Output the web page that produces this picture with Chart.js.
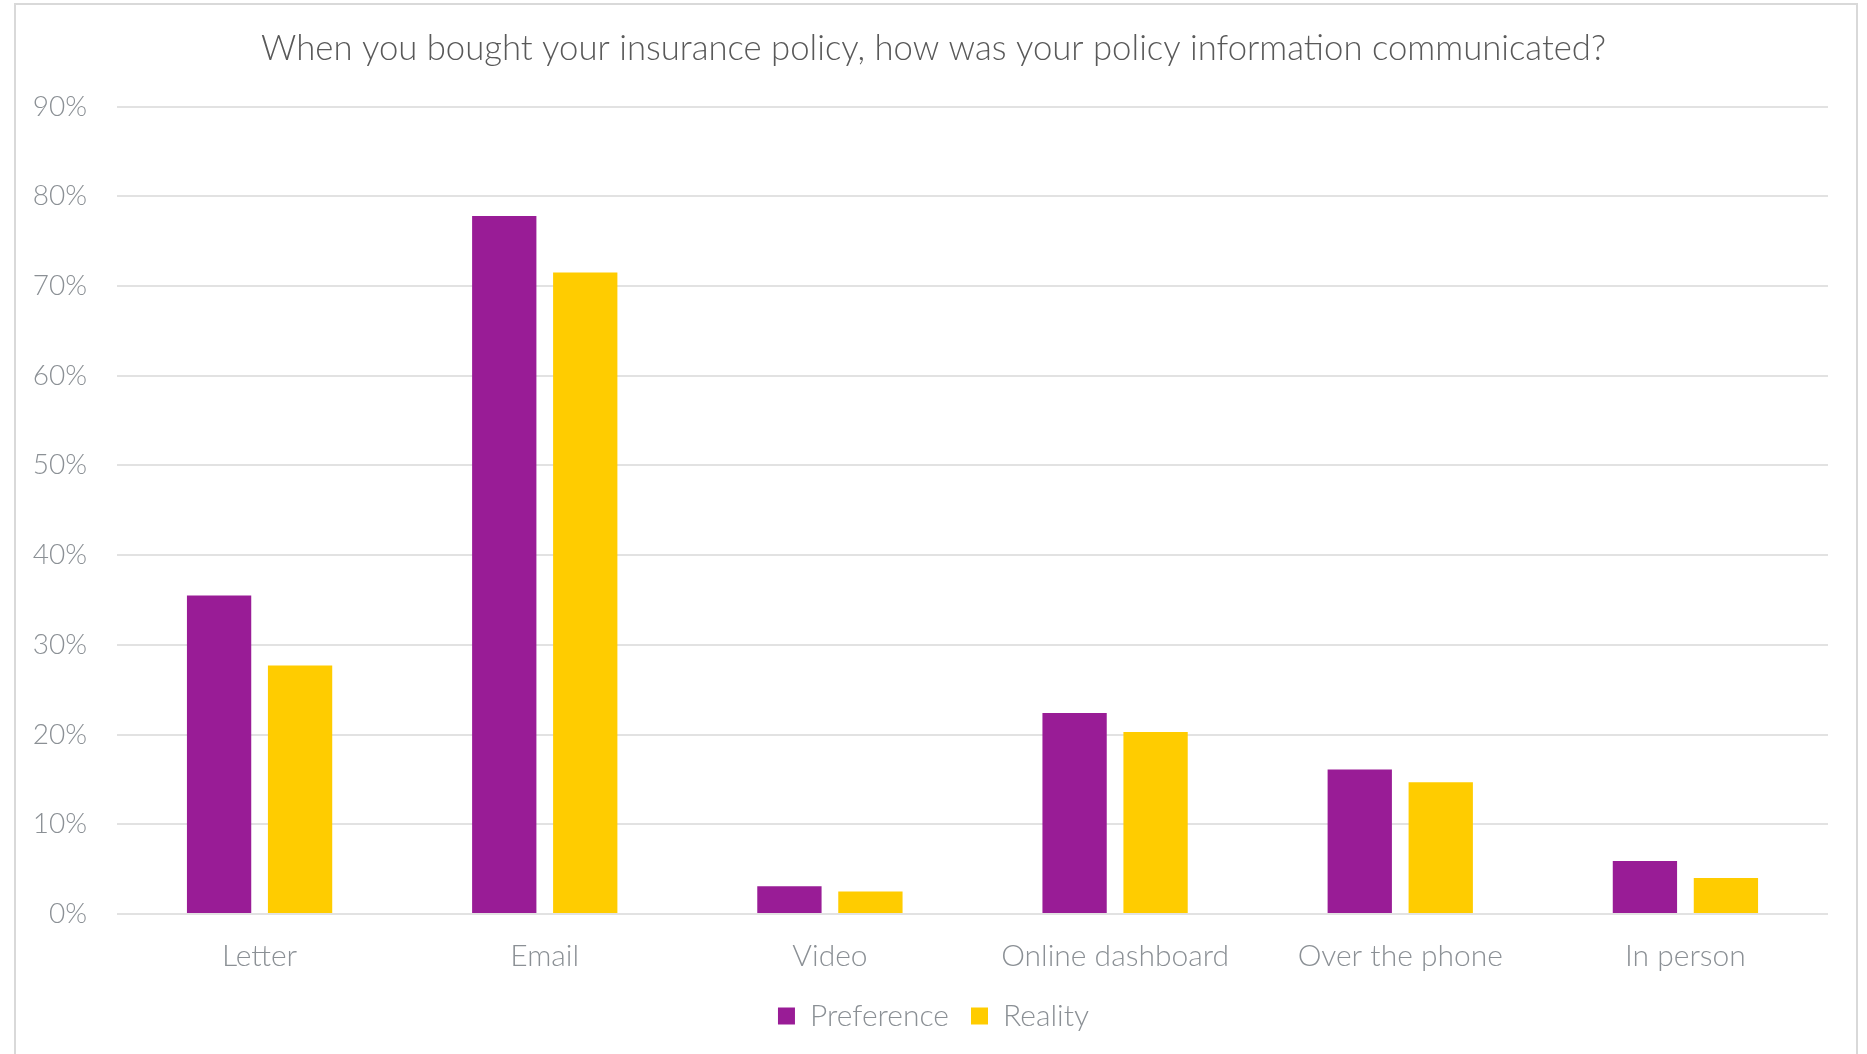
<!DOCTYPE html>
<html>
<head>
<meta charset="utf-8">
<script src="https://cdn.jsdelivr.net/npm/chart.js@4/dist/chart.umd.min.js"></script>
<style>
  html, body { margin: 0; padding: 0; background: #fff; }
  #wrap { position: relative; width: 1867px; height: 1054px; }
</style>
</head>
<body>
<div id="wrap"><canvas id="chart" width="1867" height="1054"></canvas></div>
<script>
const titleText = 'When you bought your insurance policy, how was your policy information communicated?';
const categories = ['Letter', 'Email', 'Video', 'Online dashboard', 'Over the phone', 'In person'];
const preference = [35.5, 77.8, 3.1, 22.4, 16.1, 5.9];
const reality = [27.7, 71.5, 2.5, 20.3, 14.7, 4.0];

const FONT = 'Lato, "Open Sans", sans-serif';
const tickGrey = '#8b9095';

// light frame around the whole chart, like the office export
const framePlugin = {
  id: 'frame',
  beforeDraw(chart) {
    const ctx = chart.ctx;
    ctx.save();
    ctx.fillStyle = '#fff';
    ctx.fillRect(0, 0, chart.width, chart.height);
    ctx.strokeStyle = '#d9d9d9';
    ctx.lineWidth = 2;
    ctx.strokeRect(15, 4, 1842, 1100);
    ctx.restore();
  }
};

new Chart(document.getElementById('chart').getContext('2d'), {
  type: 'bar',
  data: {
    labels: categories,
    datasets: [
      { label: 'Preference', data: preference, backgroundColor: '#991c96' },
      { label: 'Reality', data: reality, backgroundColor: '#ffcc00' }
    ]
  },
  options: {
    responsive: false,
    animation: false,
    datasets: { bar: { categoryPercentage: 0.568, barPercentage: 0.794 } },
    layout: { padding: { left: 0, right: 0, top: 0, bottom: 13 } },
    plugins: {
      title: {
        display: true,
        text: titleText,
        color: '#595959',
        font: { family: FONT, size: 34.7, weight: '300' },
        padding: { top: 28, bottom: 37 }
      },
      legend: {
        position: 'bottom',
        labels: {
          color: tickGrey,
          font: { family: FONT, size: 30, weight: '300' },
          boxWidth: 17,
          boxHeight: 17,
          padding: 22
        }
      },
      tooltip: { enabled: false }
    },
    scales: {
      x: {
        afterFit(scale) { scale.height -= 19; },
        grid: { display: false, drawTicks: false },
        border: { display: false },
        ticks: { color: tickGrey, font: { family: FONT, size: 30, weight: '300' }, padding: 24 }
      },
      y: {
        min: 0,
        max: 90,
        afterFit(scale) { scale.width = 117; },
        grid: { color: '#e2e2e2', lineWidth: 2, drawTicks: false },
        border: { display: false },
        ticks: {
          stepSize: 10,
          color: tickGrey,
          font: { family: FONT, size: 28, weight: '300' },
          padding: 30,
          callback: v => v + '%'
        }
      },
      // empty right-hand strip so the plot stops short of the frame
      spacer: {
        type: 'linear',
        position: 'right',
        afterFit(scale) { scale.width = 39; },
        grid: { display: false, drawTicks: false },
        border: { display: false },
        ticks: { display: false }
      }
    }
  },
  plugins: [framePlugin]
});
</script>
</body>
</html>
